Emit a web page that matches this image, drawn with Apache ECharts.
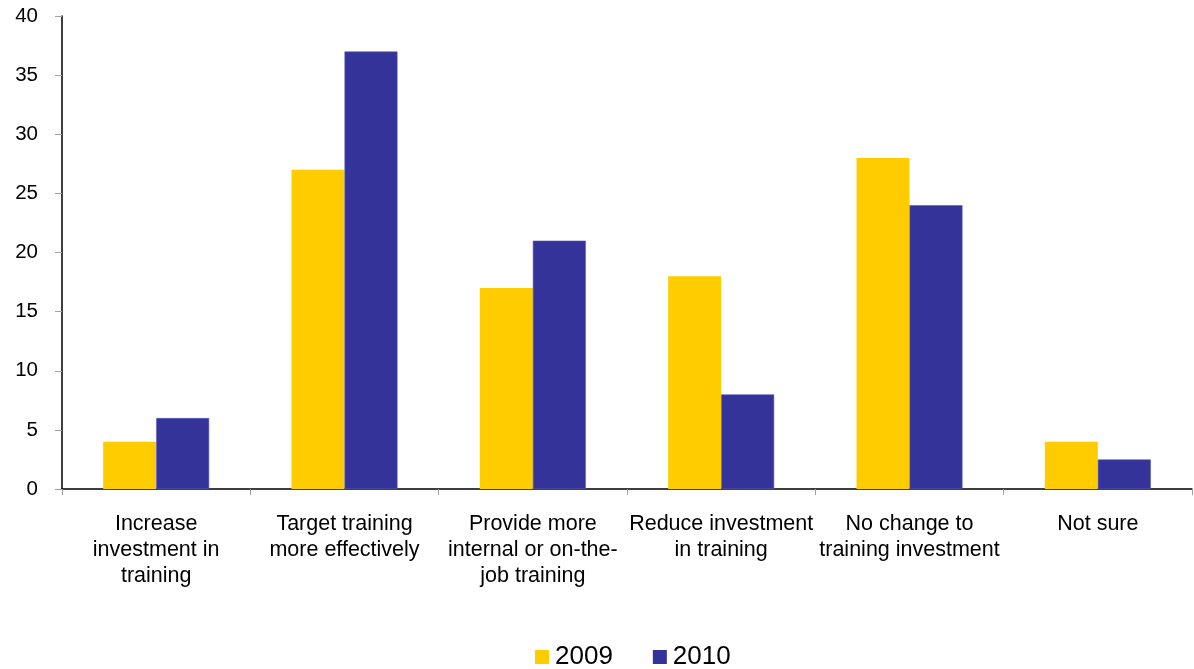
<!DOCTYPE html>
<html>
<head>
<meta charset="utf-8">
<script src="https://cdn.jsdelivr.net/npm/echarts@6/dist/echarts.min.js"></script>
<style>
  html, body { margin: 0; padding: 0; background: #ffffff; }
  #chart { width: 1194px; height: 669px; }
</style>
</head>
<body>
<div id="chart"></div>
<script>
// Training plans by response category, two survey years
const categories = [
  'Increase\ninvestment in\ntraining',
  'Target training\nmore effectively',
  'Provide more\ninternal or on-the-\njob training',
  'Reduce investment\nin training',
  'No change to\ntraining investment',
  'Not sure'
];
const values2009 = [4, 27, 17, 18, 28, 4];
const values2010 = [6, 37, 21, 8, 24, 2.5];
const yTicks = { min: 0, max: 40, interval: 5 };

const FONT = '"Liberation Sans", Arial, sans-serif';

const chart = echarts.init(document.getElementById('chart'), null, { renderer: 'canvas' });
chart.setOption({
  animation: false,
  backgroundColor: '#ffffff',
  textStyle: { fontFamily: FONT },
  grid: { left: 62, right: 2, top: 16, bottom: 180, containLabel: false },
  legend: {
    bottom: -6,
    left: 530,
    itemWidth: 14,
    itemHeight: 14,
    itemGap: 40,
    icon: 'rect',
    itemStyle: { borderWidth: 0 },
    textStyle: { fontFamily: FONT, fontSize: 26, color: '#000000', padding: [0, 0, 0, 1] },
    data: ['2009', '2010']
  },
  xAxis: {
    type: 'category',
    data: categories,
    axisLine: { show: true, lineStyle: { color: '#000000', width: 1.5 } },
    axisTick: { show: true, length: 6, alignWithLabel: false, lineStyle: { color: '#a0a0a0' } },
    axisLabel: {
      interval: 0,
      margin: 22,
      fontFamily: FONT,
      fontSize: 21.5,
      lineHeight: 26,
      color: '#000000',
      align: 'center'
    }
  },
  yAxis: {
    type: 'value',
    min: yTicks.min,
    max: yTicks.max,
    interval: yTicks.interval,
    splitLine: { show: false },
    axisLine: { show: true, lineStyle: { color: '#000000', width: 1.5 } },
    axisTick: { show: true, length: 7, lineStyle: { color: '#a0a0a0' } },
    axisLabel: { margin: 24, fontFamily: FONT, fontSize: 20.5, color: '#000000' }
  },
  series: [
    {
      name: '2009',
      type: 'bar',
      data: values2009,
      barWidth: 53,
      barGap: '0%',
      itemStyle: { color: '#FFCC00' }
    },
    {
      name: '2010',
      type: 'bar',
      data: values2010,
      barWidth: 53,
      barGap: '0%',
      itemStyle: { color: '#333399', borderColor: '#5a5ab8', borderWidth: 0.6 }
    }
  ]
});
</script>
</body>
</html>
